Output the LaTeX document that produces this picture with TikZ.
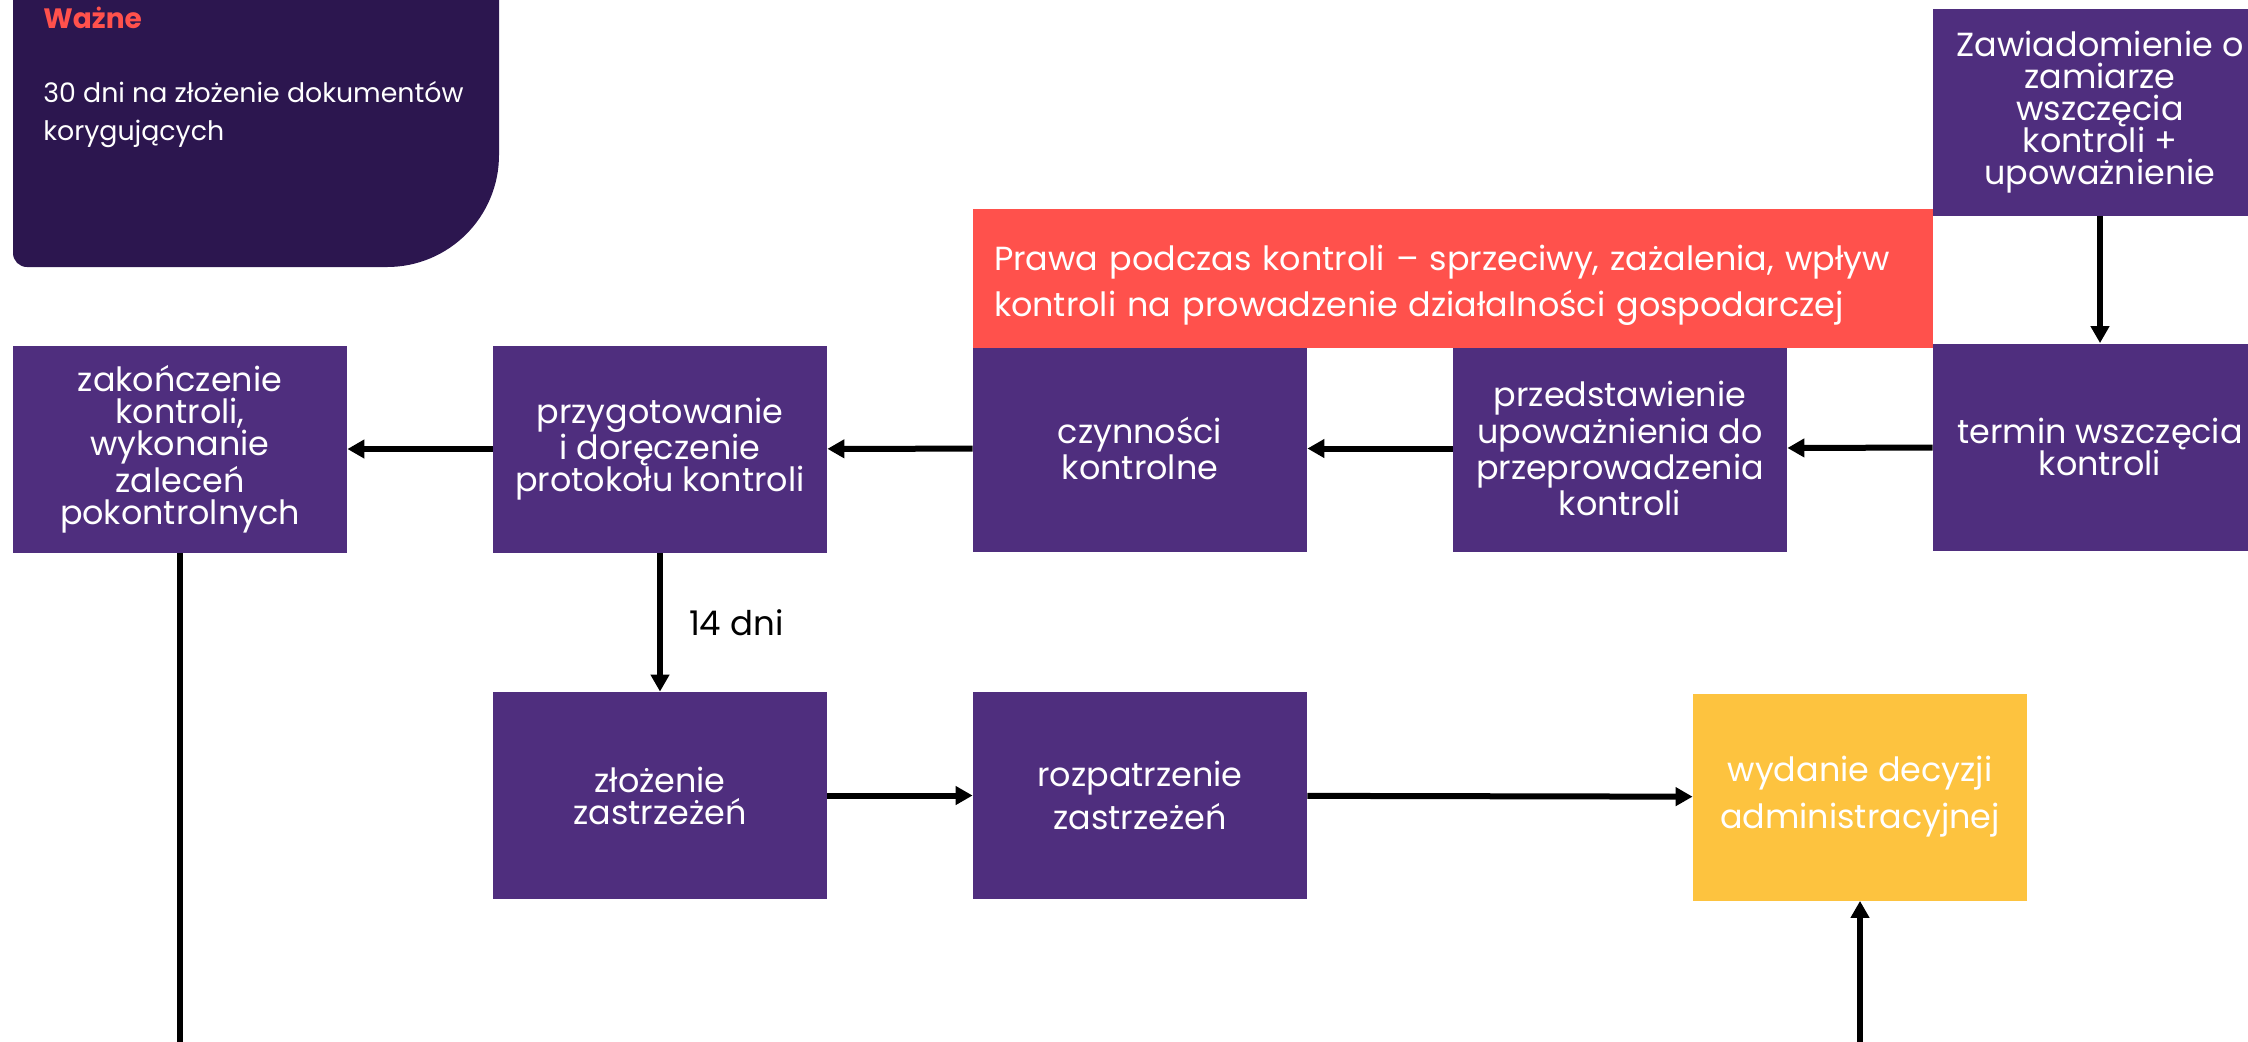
\documentclass[tikz,border=0pt]{standalone}
\usepackage{fontspec}
\setmainfont{Poppins}
\usetikzlibrary{arrows.meta}
\definecolor{stagepurple}{HTML}{4F2E7E}
\definecolor{notedark}{HTML}{2C164F}
\definecolor{alertred}{HTML}{FF514C}
\definecolor{decisionyellow}{HTML}{FDC33F}

\begin{document}
\begin{tikzpicture}
[every node/.style={inner sep=0pt},
 stage/.style={rectangle, minimum width=167pt, minimum height=103.5pt, fill=stagepurple, text=white, align=center, font=\fontsize{16.7}{16}\selectfont},
 flow/.style={line width=3pt, -{Triangle[width=9pt,length=8.5pt]}, color=black}]
\useasboundingbox (0pt,0pt) rectangle (1124pt,-520.5pt);
\clip (0pt,0pt) rectangle (1124pt,-520.5pt);
% note in the corner
\fill[notedark] (6.5pt,5pt) -- (6.5pt,-126.5pt) arc[start angle=180, end angle=270, radius=7pt] -- (193.5pt,-133.5pt) arc[start angle=270, end angle=360, radius=56pt] -- (249.5pt,5pt) -- cycle;
\node (wazne) [anchor=base west, text=alertred, font=\bfseries\fontsize{14}{14}\selectfont] at (21.5pt, -14pt) {Ważne};
\node (dni30) [anchor=west, text=white, align=left, font=\fontsize{13.4}{19}\selectfont] at (21.5pt, -57.5pt) {30 dni na złożenie dokumentów\\korygujących};
% stages
\node (zawiad) [stage] at (1050pt, -56.25pt) {Zawiadomienie o\\zamiarze\\wszczęcia\\kontroli +\\upoważnienie};
\node (termin) [stage] at (1050pt, -223.5pt) {termin wszczęcia\\kontroli};
\node (przedst) [stage] at (810pt, -224.25pt) {przedstawienie\\upoważnienia do\\przeprowadzenia\\kontroli};
\node (czynn) [stage] at (570pt, -224.25pt) {czynności\\kontrolne};
\node (przyg) [stage] at (330pt, -224.5pt) {przygotowanie\\i doręczenie\\protokołu kontroli};
\node (zakoncz) [stage] at (90pt, -224.5pt) {zakończenie\\kontroli,\\wykonanie\\zaleceń\\pokontrolnych};
\node (prawa) [rectangle, minimum width=480pt, minimum height=69.5pt, fill=alertred] at (726.5pt, -139.25pt) {};
\node (prawatxt) [anchor=west, text width=459pt, text=white, align=left, font=\fontsize{16.7}{23}\selectfont] at ([xshift=10.5pt, yshift=-3.5pt]prawa.west) {Prawa podczas kontroli – sprzeciwy, zażalenia, wpływ\\kontroli na prowadzenie działalności gospodarczej};
\node (zlozenie) [stage] at (330pt, -397.75pt) {złożenie\\zastrzeżeń};
\node (rozpatrz) [stage, font=\fontsize{16.7}{21.5}\selectfont] at (570pt, -397.75pt) {rozpatrzenie\\zastrzeżeń};
\node (wydanie) [stage, fill=decisionyellow, font=\fontsize{16.7}{23.5}\selectfont] at (930pt, -398.5pt) {wydanie decyzji\\administracyjnej};
\coordinate (bottom) at (0pt, -524pt);
% connectors
\draw [flow] (zawiad) to (termin);
\draw [flow] (termin) to (przedst);
\draw [flow] (przedst) to (czynn);
\draw [flow] (czynn) to (przyg);
\draw [flow] (przyg) to (zakoncz);
\draw [flow] (przyg) to node [right=13pt, font=\fontsize{17}{17}\selectfont] {14 dni} (zlozenie);
\draw [flow] (zlozenie) to (rozpatrz);
\draw [flow] (rozpatrz) to (wydanie);
\draw [flow] (zakoncz.south) -- (zakoncz.south |- bottom) -- (wydanie.south |- bottom) -- (wydanie.south);
\end{tikzpicture}
\end{document}
